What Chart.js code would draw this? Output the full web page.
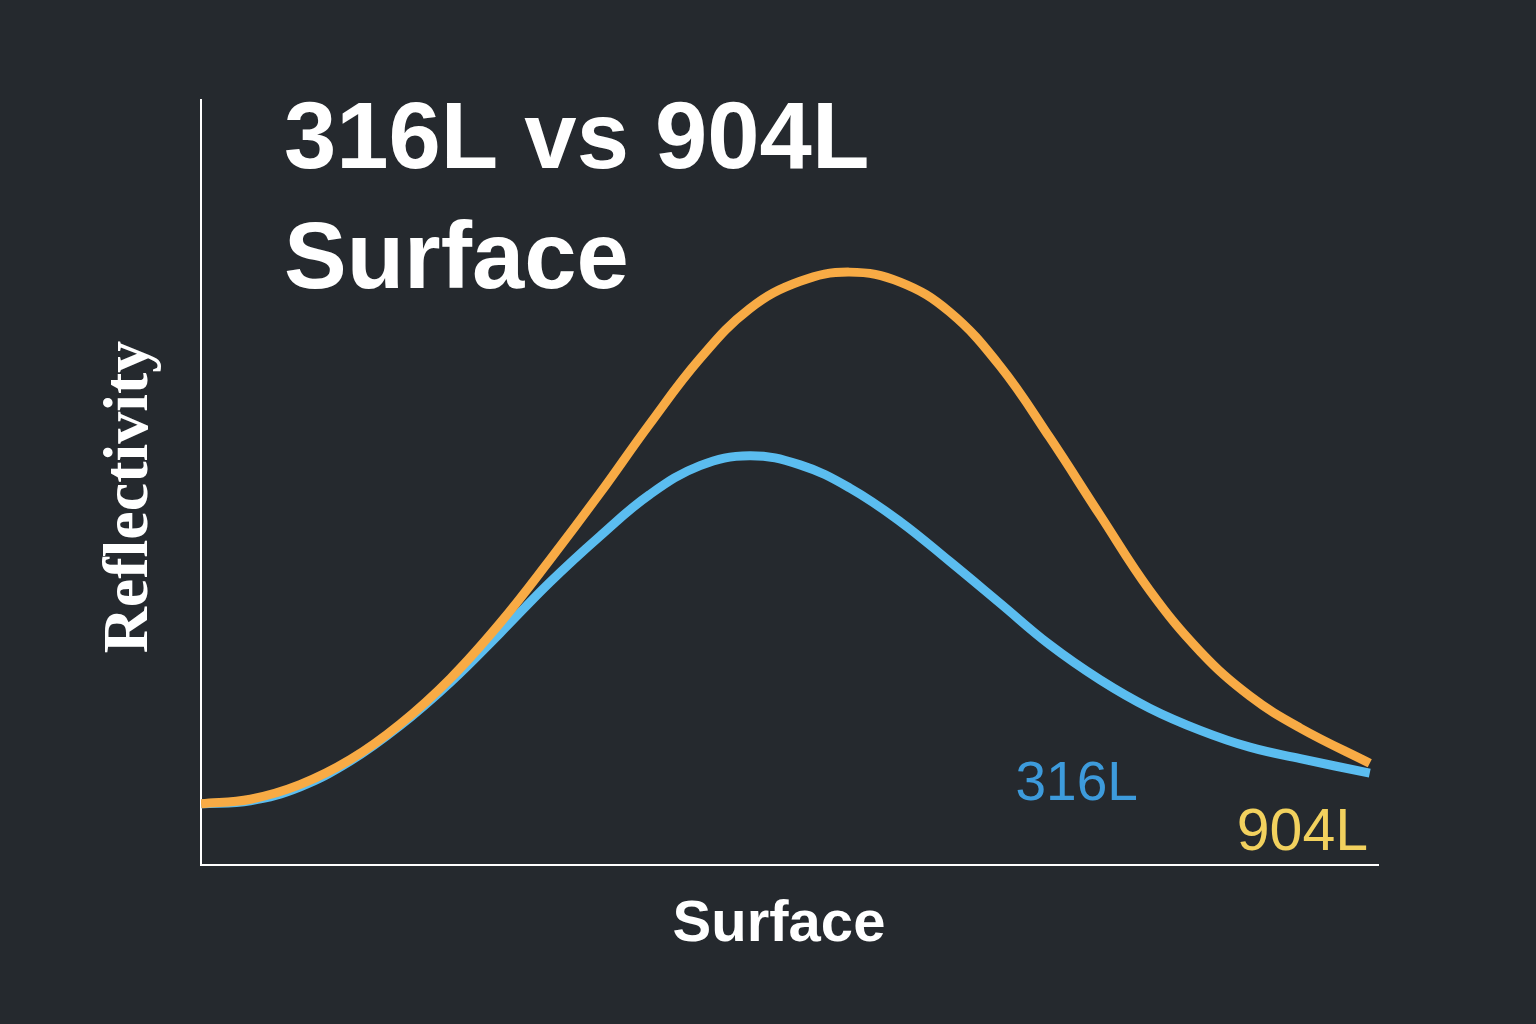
<!DOCTYPE html>
<html>
<head>
<meta charset="utf-8">
<script src="https://cdn.jsdelivr.net/npm/chart.js@4.4.1/dist/chart.umd.min.js"></script>
<style>
  html, body { margin: 0; padding: 0; background: #25292e; }
  canvas { display: block; }
</style>
</head>
<body>
<canvas id="reflectChart" width="1536" height="1024"></canvas>
<script>
// Surface position (0-100) and reflectivity (0-100)
const surfacePos = [0, 4.2, 8.4, 12.7, 16.9, 21.2, 25.4, 29.6, 33.9, 38.1, 42.4, 46.6, 50.9, 55.1, 59.4, 63.6, 67.9, 72.1, 76.4, 80.6, 84.9, 89.1, 93.4, 99.3];
const refl316 = [8.0, 8.4, 10.2, 13.6, 18.2, 23.9, 30.3, 36.9, 43.0, 48.4, 52.2, 53.5, 52.3, 49.3, 44.9, 39.7, 34.2, 28.8, 24.2, 20.5, 17.6, 15.4, 13.9, 12.0];
const refl904 = [8.0, 8.6, 10.5, 13.8, 18.4, 24.4, 31.6, 39.8, 48.6, 57.6, 66.2, 72.7, 76.3, 77.5, 76.2, 72.3, 65.2, 55.9, 45.7, 35.9, 27.9, 22.1, 17.9, 13.3];

const seriesNames = ['316L', '904L'];
const titleLines = ['316L vs 904L', 'Surface'];
const xTitle = 'Surface';
const yTitle = 'Reflectivity';

const toPoints = (xs, ys) => xs.map((x, i) => ({ x: x, y: ys[i] }));

// background, title, axis titles and end labels
const decorations = {
    id: 'decorations',
    beforeDraw(chart) {
        const ctx = chart.ctx;
        ctx.save();
        ctx.fillStyle = '#25292e';
        ctx.fillRect(0, 0, chart.width, chart.height);
        ctx.restore();
    },
    afterDatasetsDraw(chart) {
        const ctx = chart.ctx;
        const xs = chart.scales.x;
        const ys = chart.scales.y;
        ctx.save();

        // title
        ctx.fillStyle = '#ffffff';
        ctx.font = 'bold 94px "Liberation Sans", Arial, sans-serif';
        ctx.textAlign = 'left';
        ctx.textBaseline = 'alphabetic';
        ctx.fillText(titleLines[0], 284, 168);
        ctx.fillText(titleLines[1], 284, 288);

        // x axis title
        ctx.font = 'bold 58px "Liberation Sans", Arial, sans-serif';
        ctx.textAlign = 'center';
        ctx.fillText(xTitle, 779, 941);

        // y axis title
        ctx.save();
        ctx.translate(147, 497);
        ctx.rotate(-Math.PI / 2);
        ctx.font = 'bold 64px "Liberation Serif", "Times New Roman", serif';
        ctx.textAlign = 'center';
        ctx.textBaseline = 'alphabetic';
        ctx.fillText(yTitle, 0, 0);
        ctx.restore();

        // series labels
        ctx.textAlign = 'left';
        ctx.font = '55px "Liberation Sans", Arial, sans-serif';
        ctx.fillStyle = '#3d9bdc';
        ctx.fillText(seriesNames[0], xs.getPixelForValue(69.2), ys.getPixelForValue(8.5));
        ctx.font = '59px "Liberation Sans", Arial, sans-serif';
        ctx.fillStyle = '#f2d15e';
        ctx.fillText(seriesNames[1], xs.getPixelForValue(88.0), ys.getPixelForValue(2.0));

        ctx.restore();
    }
};

new Chart(document.getElementById('reflectChart').getContext('2d'), {
    type: 'line',
    data: {
        datasets: [{
            label: seriesNames[1],
            data: toPoints(surfacePos, refl904),
            borderColor: '#f8ab45',
            borderWidth: 9,
            pointRadius: 0,
            tension: 0.4,
            fill: false
        }, {
            label: seriesNames[0],
            data: toPoints(surfacePos, refl316),
            borderColor: '#5bbdf0',
            borderWidth: 9,
            pointRadius: 0,
            tension: 0.4,
            fill: false
        }]
    },
    options: {
        responsive: false,
        animation: false,
        layout: {
            padding: { left: 201, top: 100, right: 158, bottom: 159 }
        },
        plugins: {
            legend: { display: false },
            title: { display: false },
            tooltip: { enabled: false }
        },
        scales: {
            x: {
                type: 'linear',
                min: 0,
                max: 100,
                grid: { display: false, drawTicks: false },
                ticks: { display: false },
                border: { display: true, color: '#ffffff', width: 2 }
            },
            y: {
                min: 0,
                max: 100,
                grid: { display: false, drawTicks: false },
                ticks: { display: false },
                border: { display: true, color: '#ffffff', width: 2 }
            }
        }
    },
    plugins: [decorations]
});
</script>
</body>
</html>
